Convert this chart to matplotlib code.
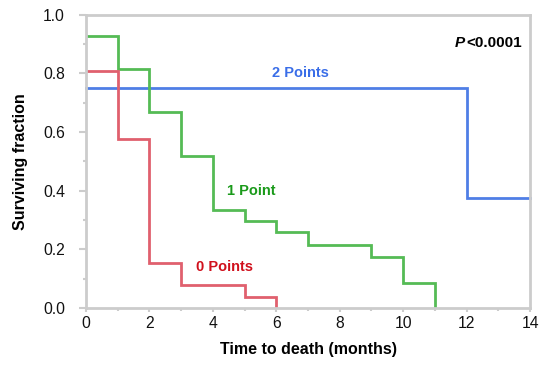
import matplotlib
matplotlib.use("Agg")
import matplotlib.pyplot as plt
from matplotlib.ticker import MultipleLocator, FormatStrFormatter

plt.rcParams['font.family'] = ['Liberation Sans', 'DejaVu Sans']

# Kaplan-Meier step data (time, surviving fraction after that time)
t_two = [0, 12, 14]
s_two = [0.75, 0.375, 0.375]

t_one = [0, 1, 2, 3, 4, 5, 6, 7, 9, 10, 11]
s_one = [0.926, 0.815, 0.667, 0.519, 0.333, 0.296, 0.259, 0.215, 0.172, 0.086, 0.0]

t_zero = [0, 1, 2, 3, 5, 6]
s_zero = [0.808, 0.577, 0.154, 0.077, 0.038, 0.0]

fig = plt.figure(figsize=(5.5, 3.7), dpi=100)
ax = fig.add_axes([0.156, 0.168, 0.808, 0.792])

c_blue, c_green, c_red = '#4f7ee6', '#55bb55', '#e0606e'
ax.step(t_two, s_two, where='post', color=c_blue, lw=2.0, solid_joinstyle='miter', clip_on=False)
ax.step(t_one, s_one, where='post', color=c_green, lw=2.0, solid_joinstyle='miter')
ax.step(t_zero, s_zero, where='post', color=c_red, lw=2.0, solid_joinstyle='miter')

ax.set_xlim(0, 14)
ax.set_ylim(0, 1.0)
ax.xaxis.set_major_locator(MultipleLocator(2))
ax.xaxis.set_minor_locator(MultipleLocator(1))
ax.yaxis.set_major_locator(MultipleLocator(0.2))
ax.yaxis.set_minor_locator(MultipleLocator(0.1))
ax.yaxis.set_major_formatter(FormatStrFormatter('%.1f'))

for sp in ax.spines.values():
    sp.set_color('#cccccc')
    sp.set_linewidth(2.0)
ax.tick_params(which='both', direction='out', width=1.5, color='#cccccc',
               labelsize=11.3, labelcolor='#111111')
ax.tick_params(axis='y', which='major', length=5, pad=10)
ax.tick_params(axis='y', which='minor', length=2.2)
ax.tick_params(axis='x', which='major', length=3, pad=3)
ax.tick_params(axis='x', which='minor', length=2.2)

ax.set_xlabel('Time to death (months)', fontsize=11.5, fontweight='bold')
ax.set_ylabel('Surviving fraction', fontsize=11.5, fontweight='bold')
ax.xaxis.set_label_coords(0.5, -0.143)
ax.xaxis.label.set_va('center')
ax.yaxis.set_label_coords(-0.146, 0.5)
ax.yaxis.label.set_va('center')

ax.text(6.75, 0.80, '2 Points', color='#3a6ee8', fontsize=10.5, fontweight='bold',
        ha='center', va='center')
ax.text(5.2, 0.40, '1 Point', color='#1a9a1a', fontsize=10.5, fontweight='bold',
        ha='center', va='center')
ax.text(4.37, 0.14, '0 Points', color='#d0101c', fontsize=10.5, fontweight='bold',
        ha='center', va='center')
ax.text(13.75, 0.905, '<0.0001', fontsize=11, fontweight='bold', ha='right', va='center')
ax.text(11.95, 0.905, 'P', fontsize=11, fontweight='bold', style='italic', ha='right', va='center')

fig.savefig('out.png', dpi=100)
